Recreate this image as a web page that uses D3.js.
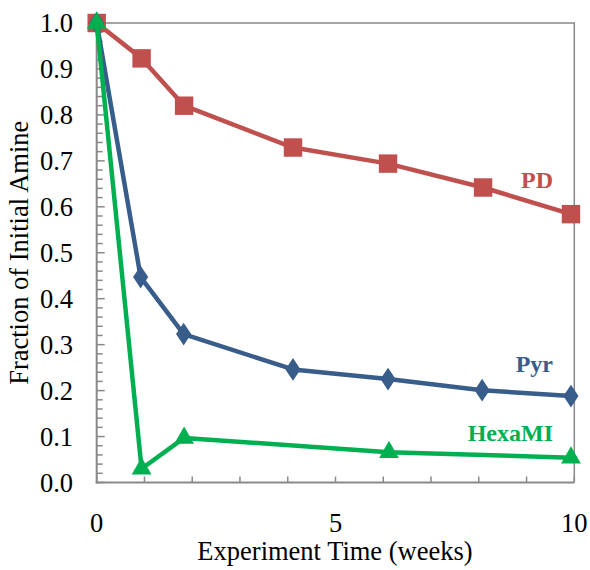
<!DOCTYPE html>
<html>
<head>
<meta charset="utf-8">
<script src="https://cdn.jsdelivr.net/npm/d3@7"></script>
<style>
  html, body { margin: 0; padding: 0; background: #fff; }
  svg text { font-family: "Liberation Serif", "Times New Roman", serif; }
</style>
</head>
<body>
<svg id="chart" width="590" height="570"></svg>
<script>
// Time points (weeks) and fraction of initial amine remaining
const timePD = [0, 0.94, 1.83, 4.11, 6.1, 8.09, 9.93];
const valuesPD = [1.0, 0.923, 0.820, 0.729, 0.694, 0.642, 0.584];

const timePyr = [0, 0.92, 1.82, 4.11, 6.1, 8.07, 9.93];
const valuesPyr = [1.0, 0.447, 0.323, 0.246, 0.225, 0.201, 0.188];

const timeHexaMI = [0, 0.94, 1.83, 6.12, 9.93];
const valuesHexaMI = [1.0, 0.03, 0.097, 0.066, 0.054];

const xTickLabels = [0, 5, 10];
const yTickLabels = [0, 0.1, 0.2, 0.3, 0.4, 0.5, 0.6, 0.7, 0.8, 0.9, 1.0];

const series = [
  { name: "PD", t: timePD, v: valuesPD, color: "#C0504D", marker: "square", labelY: 0.64 },
  { name: "Pyr", t: timePyr, v: valuesPyr, color: "#385D8A", marker: "diamond", labelY: 0.24 },
  { name: "HexaMI", t: timeHexaMI, v: valuesHexaMI, color: "#00B050", marker: "triangle", labelY: 0.09 }
];

const svg = d3.select("#chart");
const x = d3.scaleLinear().domain([0, 10]).range([96.7, 574.3]);
const y = d3.scaleLinear().domain([0, 1]).range([482.5, 23]);

const axisColor = "#898989";
const axisFont = 26.5;

// Plot frame (top and right edges)
svg.append("path")
  .attr("d", `M${x(0)},${y(1)}H${x(10)}V${y(0)}`)
  .attr("fill", "none").attr("stroke", axisColor).attr("stroke-width", 1.5);

// Y axis with inward minor ticks every 0.02 and major every 0.1
const yMinor = d3.range(0, 51).map(i => i / 50);
const gy = svg.append("g");
gy.selectAll("line.tick").data(yMinor).join("line")
  .attr("x1", x(0)).attr("x2", (d, i) => x(0) + (i % 5 === 0 ? 8 : 6))
  .attr("y1", d => y(d)).attr("y2", d => y(d))
  .attr("stroke", axisColor).attr("stroke-width", 1.5);
gy.append("line")
  .attr("x1", x(0)).attr("x2", x(0)).attr("y1", y(1)).attr("y2", y(0) + 1)
  .attr("stroke", axisColor).attr("stroke-width", 2);
gy.selectAll("text").data(yTickLabels).join("text")
  .attr("x", 73).attr("y", d => y(d))
  .attr("dy", "0.35em")
  .attr("text-anchor", "end")
  .attr("font-size", axisFont)
  .attr("fill", "#000")
  .text(d => d3.format(".1f")(d));

// X axis with inward ticks every week
const gx = svg.append("g");
gx.selectAll("line.tick").data(d3.range(0, 11)).join("line")
  .attr("x1", d => x(d)).attr("x2", d => x(d))
  .attr("y1", y(0)).attr("y2", y(0) - 6)
  .attr("stroke", axisColor).attr("stroke-width", 1.5);
gx.append("line")
  .attr("x1", x(0) - 1).attr("x2", x(10)).attr("y1", y(0)).attr("y2", y(0))
  .attr("stroke", axisColor).attr("stroke-width", 2);
gx.selectAll("text").data(xTickLabels).join("text")
  .attr("x", d => x(d)).attr("y", 532)
  .attr("text-anchor", "middle")
  .attr("font-size", axisFont)
  .attr("fill", "#000")
  .text(d => d);

// Axis titles
svg.append("text")
  .attr("x", 335).attr("y", 560)
  .attr("text-anchor", "middle")
  .attr("font-size", axisFont)
  .text("Experiment Time (weeks)");
svg.append("text")
  .attr("transform", `translate(28,${(y(0) + y(1)) / 2 + 0}) rotate(-90)`)
  .attr("text-anchor", "middle")
  .attr("font-size", axisFont)
  .text("Fraction of Initial Amine");

// Series lines and markers
const line = d3.line().x(d => x(d[0])).y(d => y(d[1]));
const symbolTypes = { square: d3.symbolSquare, diamond: d3.symbolDiamond, triangle: d3.symbolTriangle };
const symbolSizes = { square: 340, diamond: 150, triangle: 170 };

series.forEach(s => {
  const pts = s.t.map((t, i) => [t, s.v[i]]);
  const g = svg.append("g");
  g.append("path")
    .attr("d", line(pts))
    .attr("fill", "none")
    .attr("stroke", s.color)
    .attr("stroke-width", 4.5)
    .attr("stroke-linejoin", "round");
  const sym = d3.symbol().type(symbolTypes[s.marker]).size(symbolSizes[s.marker]);
  g.selectAll("path.marker").data(pts).join("path")
    .attr("class", "marker")
    .attr("d", sym)
    .attr("transform", d => `translate(${x(d[0])},${y(d[1])})` + (s.marker === "diamond" ? " scale(1.15,1)" : ""))
    .attr("fill", s.color);
  g.append("text")
    .attr("x", 553).attr("y", y(s.labelY))
    .attr("text-anchor", "end")
    .attr("font-size", 24)
    .attr("font-weight", "bold")
    .attr("fill", s.color)
    .text(s.name);
});
</script>
</body>
</html>
